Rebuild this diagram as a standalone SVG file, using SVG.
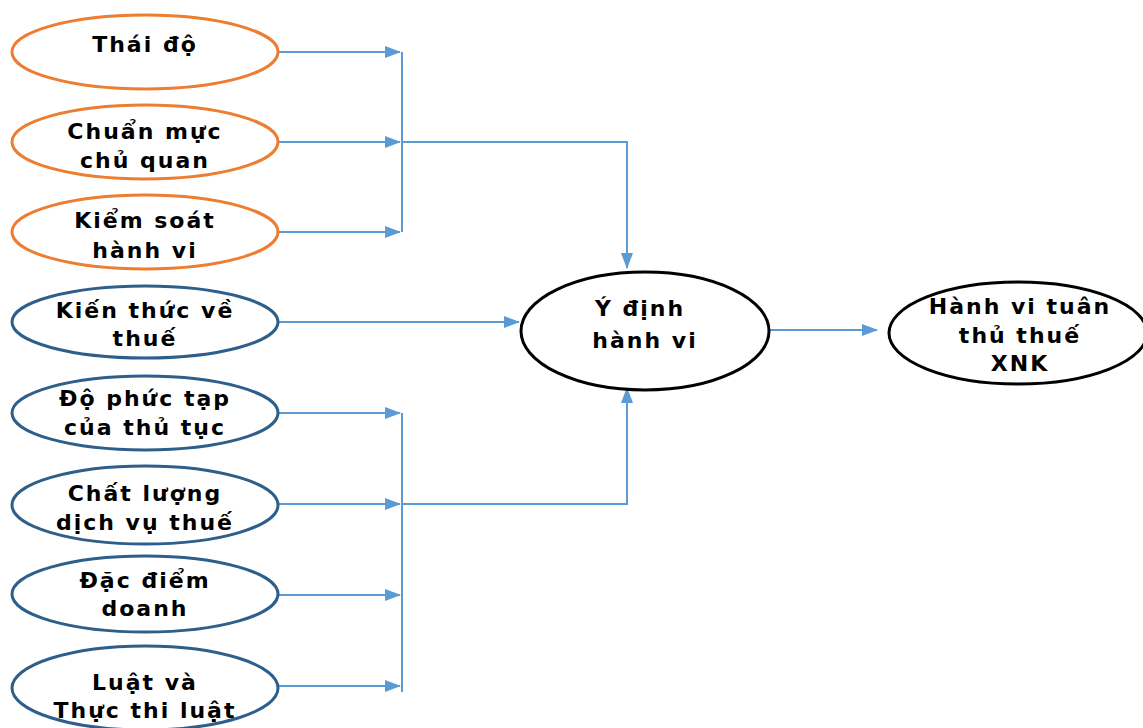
<svg xmlns="http://www.w3.org/2000/svg" width="1143" height="728" viewBox="0 0 1143 728">
<defs>
<style>
.o{fill:#fff;stroke:#ED7D31;stroke-width:3}
.b{fill:#fff;stroke:#2E5F8A;stroke-width:3}
.k{fill:#fff;stroke:#000;stroke-width:3}
.t{font-family:"DejaVu Sans",Verdana,sans-serif;font-weight:bold;font-size:22px;letter-spacing:2px;fill:#000;text-anchor:middle}
.c{fill:none;stroke:#5B9BD5;stroke-width:2}
</style>
<marker id="ah2" markerWidth="16" markerHeight="12" refX="15" refY="6" orient="auto" markerUnits="userSpaceOnUse" viewBox="0 0 16 12">
<path d="M0,0 L16,6 L0,12 z" fill="#5B9BD5"/>
</marker>
</defs>
<rect width="1143" height="728" fill="#fff"/>
<g id="connectors">
<path class="c" d="M279,52 H400" marker-end="url(#ah2)"/>
<path class="c" d="M279,142 H400" marker-end="url(#ah2)"/>
<path class="c" d="M279,232 H400" marker-end="url(#ah2)"/>
<path class="c" d="M402,52 V232"/>
<path class="c" d="M402,142 H627 V268" marker-end="url(#ah2)"/>
<path class="c" d="M279,322 H519" marker-end="url(#ah2)"/>
<path class="c" d="M279,413 H400" marker-end="url(#ah2)"/>
<path class="c" d="M279,504 H400" marker-end="url(#ah2)"/>
<path class="c" d="M279,595 H400" marker-end="url(#ah2)"/>
<path class="c" d="M279,686 H400" marker-end="url(#ah2)"/>
<path class="c" d="M402,413 V692"/>
<path class="c" d="M402,504 H627 V388" marker-end="url(#ah2)"/>
<path class="c" d="M770,330 H877" marker-end="url(#ah2)"/>
</g>
<g id="n1"><ellipse class="o" cx="145" cy="52" rx="133" ry="37"/><text class="t" x="145" y="52">Thái độ</text></g>
<g id="n2"><ellipse class="o" cx="145" cy="142" rx="133" ry="37"/><text class="t" x="145" y="139">Chuẩn mực</text><text class="t" x="145" y="168">chủ quan</text></g>
<g id="n3"><ellipse class="o" cx="145" cy="232" rx="133" ry="37"/><text class="t" x="145" y="228">Kiểm soát</text><text class="t" x="145" y="258">hành vi</text></g>
<g id="n4"><ellipse class="b" cx="145" cy="322" rx="133" ry="36"/><text class="t" x="145" y="318">Kiến thức về</text><text class="t" x="145" y="346">thuế</text></g>
<g id="n5"><ellipse class="b" cx="145" cy="413" rx="133" ry="37"/><text class="t" x="145" y="406">Độ phức tạp</text><text class="t" x="145" y="435">của thủ tục</text></g>
<g id="n6"><ellipse class="b" cx="145" cy="505" rx="133" ry="39"/><text class="t" x="145" y="501">Chất lượng</text><text class="t" x="145" y="530">dịch vụ thuế</text></g>
<g id="n7"><ellipse class="b" cx="145" cy="594" rx="133" ry="38"/><text class="t" x="145" y="588">Đặc điểm</text><text class="t" x="145" y="616">doanh</text></g>
<g id="n8"><ellipse class="b" cx="145" cy="688" rx="133" ry="42"/><text class="t" x="145" y="690">Luật và</text><text class="t" x="145" y="718">Thực thi luật</text></g>
<g id="n9"><ellipse class="k" cx="645" cy="331" rx="124" ry="59"/><text class="t" x="640" y="316">Ý định</text><text class="t" x="645" y="348">hành vi</text></g>
<g id="n10"><ellipse class="k" cx="1018" cy="333" rx="129" ry="51"/><text class="t" x="1020" y="314">Hành vi tuân</text><text class="t" x="1020" y="343">thủ thuế</text><text class="t" x="1020" y="371">XNK</text></g>
</svg>
